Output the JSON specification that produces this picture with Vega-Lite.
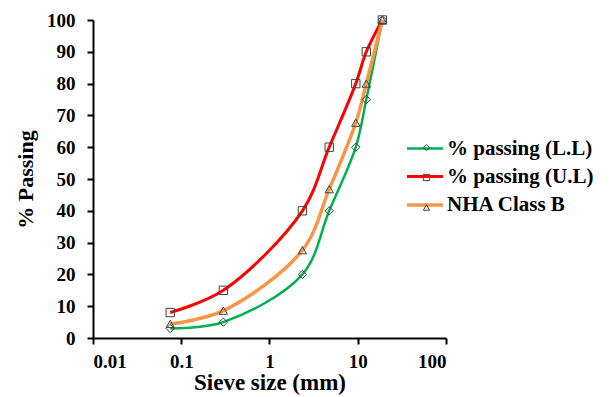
{
  "$schema": "https://vega.github.io/schema/vega-lite/v6.json",
  "width": 353,
  "height": 318,
  "autosize": {"type": "none"},
  "padding": {"left": 93, "top": 20, "right": 164, "bottom": 59},
  "background": "white",
  "config": {
    "view": {"stroke": null},
    "font": "Liberation Serif",
    "axis": {"grid": false, "domainColor": "black", "domainWidth": 2, "tickColor": "black", "tickWidth": 2, "tickSize": 6,
      "labelFont": "Liberation Serif", "labelFontSize": 19, "labelFontWeight": "bold", "labelColor": "black",
      "titleFont": "Liberation Serif", "titleFontWeight": "bold", "titleColor": "black"}
  },
  "data": {"values": [
    {"size": 0.075, "pct": 3, "series": "% passing (L.L)"},
    {"size": 0.3, "pct": 5, "series": "% passing (L.L)"},
    {"size": 2.36, "pct": 20, "series": "% passing (L.L)"},
    {"size": 4.75, "pct": 40, "series": "% passing (L.L)"},
    {"size": 9.5, "pct": 60, "series": "% passing (L.L)"},
    {"size": 12.5, "pct": 75, "series": "% passing (L.L)"},
    {"size": 19, "pct": 100, "series": "% passing (L.L)"},
    {"size": 0.075, "pct": 8, "series": "% passing (U.L)"},
    {"size": 0.3, "pct": 15, "series": "% passing (U.L)"},
    {"size": 2.36, "pct": 40, "series": "% passing (U.L)"},
    {"size": 4.75, "pct": 60, "series": "% passing (U.L)"},
    {"size": 9.5, "pct": 80, "series": "% passing (U.L)"},
    {"size": 12.5, "pct": 90, "series": "% passing (U.L)"},
    {"size": 19, "pct": 100, "series": "% passing (U.L)"},
    {"size": 0.075, "pct": 4.4, "series": "NHA Class B"},
    {"size": 0.3, "pct": 8.6, "series": "NHA Class B"},
    {"size": 2.36, "pct": 27.6, "series": "NHA Class B"},
    {"size": 4.75, "pct": 46.8, "series": "NHA Class B"},
    {"size": 9.5, "pct": 67.7, "series": "NHA Class B"},
    {"size": 12.5, "pct": 80, "series": "NHA Class B"},
    {"size": 19, "pct": 100, "series": "NHA Class B"}
  ]},
  "encoding": {
    "x": {"field": "size", "type": "quantitative",
      "scale": {"type": "log", "domain": [0.01, 100], "nice": false},
      "axis": {"values": [0.01, 0.1, 1, 10, 100], "format": "~g", "title": "Sieve size (mm)", "titleFontSize": 23, "labelPadding": 8, "titlePadding": 0}},
    "y": {"field": "pct", "type": "quantitative",
      "scale": {"domain": [0, 100], "nice": false},
      "axis": {"values": [0, 10, 20, 30, 40, 50, 60, 70, 80, 90, 100], "title": "% Passing", "titleFontSize": 22, "labelPadding": 12, "titlePadding": 9}}
  },
  "layer": [
    {
      "mark": {"type": "line", "interpolate": "catmull-rom"},
      "encoding": {
        "color": {"field": "series", "type": "nominal",
          "scale": {"domain": ["% passing (L.L)", "% passing (U.L)", "NHA Class B"], "range": ["#00B050", "#FF0000", "#F79646"]},
          "legend": {"orient": "none", "legendX": 314, "legendY": 111, "title": null, "padding": 0,
            "symbolType": "M-1.125,0H1.125", "symbolSize": 1024, "symbolStrokeWidth": 3.5, "rowPadding": 0,
            "labelFont": "Liberation Serif", "labelFontSize": 21, "labelFontWeight": "bold", "labelColor": "black", "labelOffset": 4, "labelLimit": 300}},
        "strokeWidth": {"field": "series", "type": "nominal",
          "scale": {"domain": ["% passing (L.L)", "% passing (U.L)", "NHA Class B"], "range": [2.5, 3.5, 4]}, "legend": null},
        "order": {"field": "size"}
      }
    },
    {
      "transform": [{"calculate": "datum.series", "as": "marker"}],
      "mark": {"type": "point", "filled": false, "stroke": "#404040", "strokeWidth": 1, "size": 70, "opacity": 1},
      "encoding": {
        "shape": {"field": "marker", "type": "nominal",
          "scale": {"range": ["diamond", "square", "triangle-up"]},
          "legend": {"orient": "none", "legendX": 323, "legendY": 117, "title": null, "padding": 0,
            "symbolStrokeColor": "#404040", "symbolFillColor": "white", "symbolSize": 40, "symbolStrokeWidth": 1, "rowPadding": 8,
            "labelFontSize": 21, "labelOpacity": 0, "labelExpr": "''"}}
      }
    }
  ]
}
